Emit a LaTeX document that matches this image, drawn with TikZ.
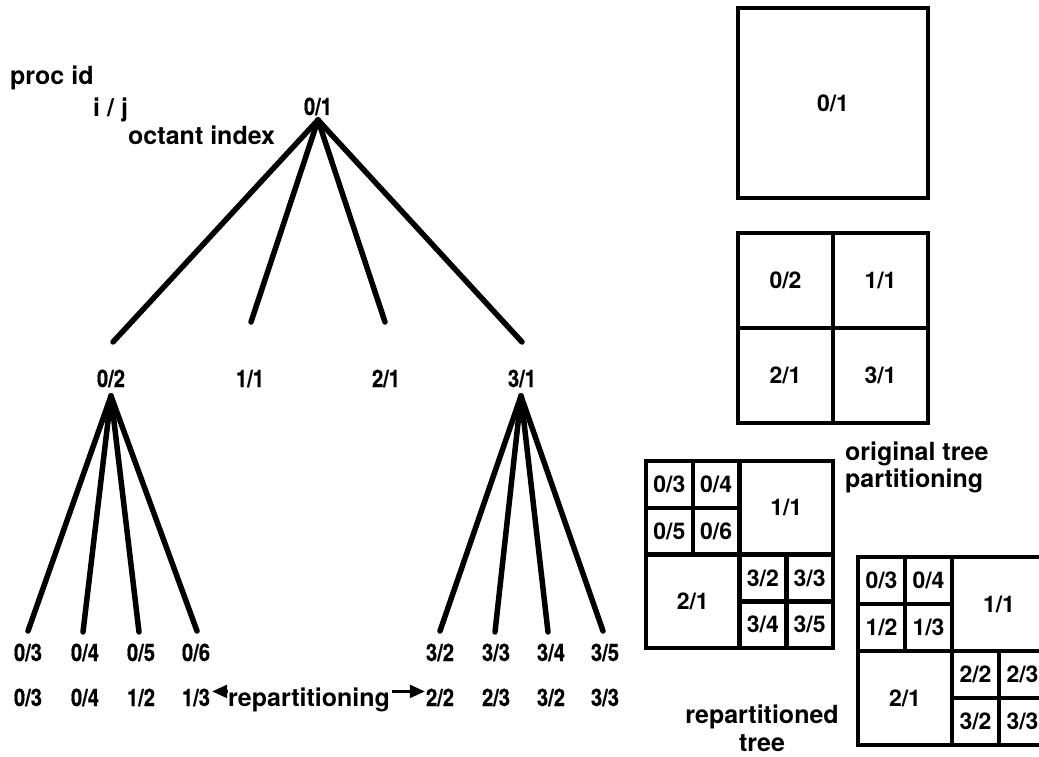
\documentclass[tikz,border=0pt]{standalone}
\usepackage{fontspec}
\setmainfont{TeX Gyre Heros}
\newfontfamily\condfont[FakeStretch=0.84,BoldFeatures={FakeBold=0.6}]{TeX Gyre Heros}
\usetikzlibrary{arrows.meta}
\begin{document}
\begin{tikzpicture}[x=1pt,y=-1pt,
  lab/.style={font=\fontsize{24}{28}\selectfont\condfont\bfseries, inner sep=0pt},
  blab/.style={font=\fontsize{23}{28}\selectfont\bfseries, inner sep=0pt},
  txt/.style={font=\fontsize{25}{29}\selectfont\bfseries, inner sep=0pt},
  edge/.style={line width=5.5pt, line cap=round},
  box/.style={line width=4.5pt, line join=miter},
  rarrow/.style={line width=2.5pt, -{Triangle[length=15pt,width=13pt]}},
  ]
\useasboundingbox (0,0) rectangle (1039,757);
\fill[white] (0,0) rectangle (1039,757);
\begin{scope}
\clip (0,0) rectangle (1039,757);

% ---------- legend ----------
\node[txt, anchor=base west] (procid) at (10,85) {proc id};
\node[txt, anchor=base west] (ij) at (93,117) {i / j};
\node[txt, anchor=base west] (octant) at (128,145) {octant index};

% ---------- tree level 0 ----------
\node[lab, anchor=base] (n01) at (318,115) {0/1};
\coordinate (r) at (318,120);

% ---------- tree level 1 ----------
\coordinate (e02) at (113,342);
\coordinate (e11) at (251,322);
\coordinate (e21) at (385,322);
\coordinate (e31) at (522,342);
\draw[edge] (r) -- (e02);
\draw[edge] (r) -- (e11);
\draw[edge] (r) -- (e21);
\draw[edge] (r) -- (e31);

\node[lab, anchor=base] (n02) at (111,387) {0/2};
\node[lab, anchor=base] (n11) at (250,387) {1/1};
\node[lab, anchor=base] (n21) at (386,387) {2/1};
\node[lab, anchor=base] (n31) at (522,387) {3/1};

% ---------- subtrees ----------
\coordinate (a02) at (111,396);
\coordinate (a31) at (521,396);
\coordinate (f03) at (28,631);
\coordinate (f04) at (83,632);
\coordinate (f05) at (139,632);
\coordinate (f06) at (197,631);
\coordinate (f32) at (440,631);
\coordinate (f33) at (495,632);
\coordinate (f34) at (548,632);
\coordinate (f35) at (603,631);
\foreach \e in {f03,f04,f05,f06} \draw[edge] (a02) -- (\e);
\foreach \e in {f32,f33,f34,f35} \draw[edge] (a31) -- (\e);

% ---------- leaves, original ----------
\node[lab, anchor=base] (l03) at (28,661) {0/3};
\node[lab, anchor=base] (l04) at (85,661) {0/4};
\node[lab, anchor=base] (l05) at (141,661) {0/5};
\node[lab, anchor=base] (l06) at (196,661) {0/6};
\node[lab, anchor=base] (l32) at (440,661) {3/2};
\node[lab, anchor=base] (l33) at (496,661) {3/3};
\node[lab, anchor=base] (l34) at (551,661) {3/4};
\node[lab, anchor=base] (l35) at (605,661) {3/5};

% ---------- leaves, repartitioned ----------
\node[lab, anchor=base] (m03) at (28,706) {0/3};
\node[lab, anchor=base] (m04) at (85,706) {0/4};
\node[lab, anchor=base] (m12) at (141,706) {1/2};
\node[lab, anchor=base] (m13) at (196,706) {1/3};
\node[lab, anchor=base] (m22) at (440,706) {2/2};
\node[lab, anchor=base] (m23) at (496,706) {2/3};
\node[lab, anchor=base] (m32) at (551,706) {3/2};
\node[lab, anchor=base] (m33) at (605,706) {3/3};
\node[txt, anchor=base] (rp) at (309,706) {repartitioning};
\draw[rarrow] (rp.west) ++(-1,-8) coordinate (rpl) -- ([xshift=2pt]m13.east |- rpl);
\draw[rarrow] (rp.east) ++(2,-8) coordinate (rpr) -- ([xshift=-1pt]m22.west |- rpr);

% ---------- box A ----------
\draw[box] (738,8) rectangle (928,198);
\node[blab] (bA) at (833,103) {0/1};

% ---------- box B ----------
\draw[box] (738,233) rectangle (928,423);
\draw[box] (833,233) -- (833,423);
\draw[box] (738,328) -- (928,328);
\node[blab] (b02) at (785.5,280.5) {0/2};
\node[blab] (b11) at (880.5,280.5) {1/1};
\node[blab] (b21) at (785.5,375.5) {2/1};
\node[blab] (b31) at (880.5,375.5) {3/1};

\node[txt, anchor=base west] (orig1) at (845,460) {original tree};
\node[txt, anchor=base west] (orig2) at (845,487) {partitioning};

% ---------- box C ----------
\draw[box] (646,461) rectangle (833,648);
\draw[box] (739.5,461) -- (739.5,648);
\draw[box] (646,554.5) -- (833,554.5);
\draw[box] (692.75,461) -- (692.75,554.5);
\draw[box] (646,507.75) -- (739.5,507.75);
\draw[box] (786.25,554.5) -- (786.25,648);
\draw[box] (739.5,601.25) -- (833,601.25);
\node[blab] (c03) at (669.4,484.4) {0/3};
\node[blab] (c04) at (716.1,484.4) {0/4};
\node[blab] (c05) at (669.4,531.1) {0/5};
\node[blab] (c06) at (716.1,531.1) {0/6};
\node[blab] (c11) at (786.25,507.75) {1/1};
\node[blab] (c21) at (692.75,601.25) {2/1};
\node[blab] (c32) at (762.9,578) {3/2};
\node[blab] (c33) at (809.6,578) {3/3};
\node[blab] (c34) at (762.9,624.6) {3/4};
\node[blab] (c35) at (809.6,624.6) {3/5};

% ---------- box D ----------
\draw[box] (858,557) rectangle (1046,745);
\draw[box] (952,557) -- (952,745);
\draw[box] (858,651) -- (1046,651);
\draw[box] (905,557) -- (905,651);
\draw[box] (858,604) -- (952,604);
\draw[box] (999,651) -- (999,745);
\draw[box] (952,698) -- (1046,698);
\node[blab] (d03) at (881.5,580.5) {0/3};
\node[blab] (d04) at (928.5,580.5) {0/4};
\node[blab] (d12) at (881.5,627.5) {1/2};
\node[blab] (d13) at (928.5,627.5) {1/3};
\node[blab] (d11) at (999,604) {1/1};
\node[blab] (d21) at (905,698) {2/1};
\node[blab] (d22) at (975.5,674.5) {2/2};
\node[blab] (d23) at (1022.5,674.5) {2/3};
\node[blab] (d32) at (975.5,721.5) {3/2};
\node[blab] (d33) at (1022.5,721.5) {3/3};

\node[txt, anchor=base] (rep1) at (762,723) {repartitioned};
\node[txt, anchor=base] (rep2) at (762,751) {tree};
\end{scope}
\end{tikzpicture}
\end{document}
